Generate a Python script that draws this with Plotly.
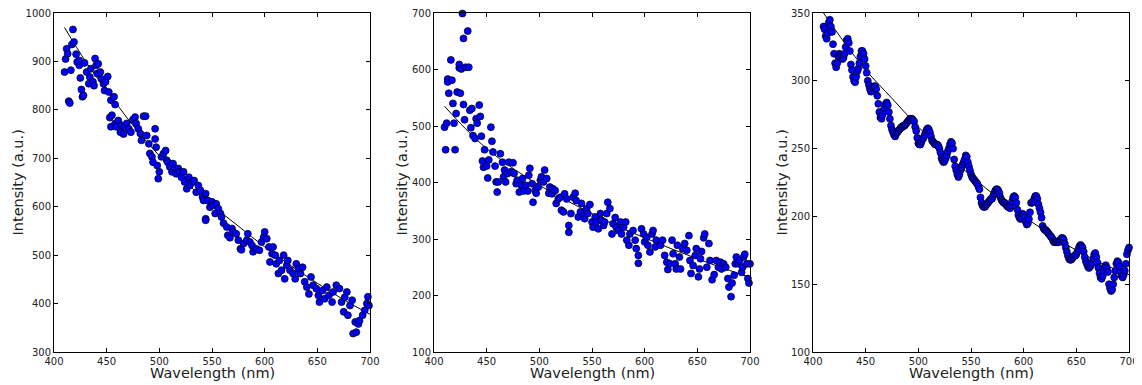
import plotly.graph_objects as go

# ---------------- Panel 1 (noisy, decaying) ----------------
p1_x = [410, 411, 412, 413, 414, 415, 416, 417, 418, 419, 421, 422, 424, 424, 425, 426, 427, 428,
        429, 431, 433, 434, 435, 437, 438, 439, 440, 441, 442, 444, 445, 447, 448, 449, 451, 452,
        454, 457, 458, 453, 454, 455, 458, 459, 461, 463, 464, 466, 467, 469, 471, 473, 475, 477,
        478, 480, 482, 483, 485, 487, 488, 490, 491, 493, 494, 496, 496, 497, 498, 499, 500, 502,
        504, 506, 507, 508, 510, 512, 513, 515, 516, 518, 519, 521, 523, 524, 526, 528, 529, 531,
        533, 535, 537, 539, 541, 542, 544, 544, 544, 546, 548, 550, 551, 553, 554, 556, 558, 559,
        561, 564, 565, 567, 569, 570, 573, 575, 577, 578, 580, 583, 584, 586, 588, 589, 592, 595,
        597, 599, 600, 602, 604, 605, 607, 608, 610, 611, 613, 614, 616, 618, 619, 621, 622, 624,
        627, 629, 630, 632, 634, 636, 638, 640, 642, 644, 646, 649, 651, 652, 655, 657, 659, 661,
        664, 665, 668, 671, 673, 675, 676, 678, 679, 681, 683, 684, 686, 687, 689, 690, 693, 695,
        697, 698, 699]
p1_y = [878, 905, 926, 916, 818, 814, 882, 935, 966, 940, 915, 899, 892, 902, 866, 842, 827, 830,
        897, 878, 854, 868, 885, 858, 850, 906, 892, 875, 895, 878, 864, 854, 840, 858, 869, 837,
        820, 827, 811, 784, 765, 789, 772, 765, 778, 754, 768, 750, 765, 772, 761, 754, 780, 785,
        772, 761, 751, 737, 787, 787, 747, 730, 710, 703, 692, 761, 740, 723, 685, 658, 672, 703,
        710, 716, 696, 692, 682, 672, 689, 679, 668, 679, 672, 661, 672, 651, 637, 661, 644, 651,
        654, 630, 644, 634, 620, 613, 627, 575, 572, 613, 599, 610, 603, 586, 606, 596, 586, 579,
        566, 558, 541, 536, 555, 548, 544, 531, 513, 511, 524, 531, 544, 527, 520, 507, 513, 510,
        527, 537, 548, 534, 517, 486, 503, 517, 500, 482, 462, 489, 469, 500, 451, 479, 489, 469,
        462, 451, 482, 472, 462, 475, 445, 434, 420, 455, 438, 431, 417, 403, 427, 410, 434, 417,
        403, 424, 438, 431, 403, 383, 413, 424, 376, 396, 407, 338, 362, 341, 358, 365, 376, 386,
        400, 414, 396]
p1_fit_x = [410, 430, 450, 475, 500, 525, 550, 575, 600, 625, 650, 675, 700]
p1_fit_y = [970, 900, 840, 768, 705, 650, 603, 560, 517, 478, 442, 408, 378]

# ---------------- Panel 2 (noisy, decaying) ----------------
p2_x = [410, 411, 412, 413, 413, 414, 416, 417, 418, 419, 420, 421, 422, 424, 424, 425, 426, 427,
        428, 428, 429, 430, 432, 433, 434, 435, 436, 437, 439, 440, 441, 443, 444, 445, 446, 447,
        448, 450, 451, 452, 454, 455, 456, 458, 459, 460, 461, 463, 465, 466, 467, 468, 470, 471,
        473, 475, 476, 478, 479, 481, 483, 484, 485, 487, 489, 490, 491, 493, 494, 496, 497, 499,
        501, 502, 504, 505, 507, 509, 510, 512, 513, 515, 516, 518, 520, 521, 523, 524, 526, 528,
        528, 530, 532, 534, 535, 537, 539, 540, 542, 543, 545, 546, 548, 550, 551, 553, 554, 556,
        558, 559, 561, 562, 564, 565, 567, 569, 570, 572, 573, 575, 577, 578, 580, 582, 583, 585,
        586, 589, 591, 592, 594, 594, 597, 599, 600, 602, 603, 605, 607, 608, 610, 611, 615, 617,
        619, 621, 622, 624, 626, 627, 629, 630, 631, 633, 634, 636, 638, 640, 642, 643, 644, 646,
        648, 649, 651, 652, 653, 654, 656, 657, 659, 661, 662, 664, 666, 668, 670, 672, 673, 675,
        677, 679, 680, 682, 683, 685, 686, 687, 689, 690, 692, 693, 694, 695, 697, 698, 699, 700]
p2_y = [498, 458, 505, 583, 578, 558, 617, 581, 540, 505, 458, 522, 560, 603, 609, 558, 601, 699,
        655, 538, 511, 604, 668, 604, 528, 497, 531, 483, 478, 513, 505, 537, 517, 482, 438, 427,
        458, 429, 408, 440, 498, 473, 454, 429, 401, 383, 401, 451, 436, 410, 422, 401, 416, 436,
        419, 435, 416, 398, 404, 383, 395, 407, 385, 395, 385, 413, 425, 398, 365, 386, 381, 392,
        404, 410, 401, 422, 407, 381, 392, 380, 389, 386, 363, 371, 374, 351, 348, 380, 371, 324,
        312, 345, 374, 381, 368, 339, 348, 363, 342, 336, 354, 345, 361, 330, 321, 339, 330, 318,
        345, 333, 324, 330, 345, 365, 354, 309, 327, 338, 321, 315, 330, 309, 321, 330, 298, 289,
        309, 315, 298, 283, 271, 257, 318, 309, 295, 303, 289, 277, 309, 315, 286, 298, 289, 298,
        271, 259, 246, 256, 298, 274, 256, 247, 289, 268, 247, 283, 292, 280, 306, 262, 239, 253,
        271, 283, 233, 247, 265, 278, 302, 309, 250, 292, 262, 228, 237, 262, 250, 259, 247, 256,
        250, 230, 215, 198, 222, 236, 256, 268, 256, 262, 241, 250, 268, 273, 256, 230, 222, 256]
p2_fit_x = [410, 430, 450, 475, 500, 525, 550, 575, 600, 625, 650, 675, 700]
p2_fit_y = [535, 495, 460, 425, 395, 369, 345, 322, 302, 283, 265, 248, 232]

# ---------------- Panel 3 (smooth oscillating decay, 1 nm steps 410..700) ----------------
p3_x = list(range(410, 701))
p3_y = [
    340, 338, 333, 331, 335, 343, 345, 340, 336, 327,   # 410
    320, 313, 310, 313, 318, 320, 319, 318, 316, 317,   # 420
    320, 325, 330, 331, 328, 322, 312, 308, 303, 300,   # 430
    299, 303, 307, 309, 313, 318, 322, 322, 320, 316,   # 440
    311, 306, 300, 297, 294, 292, 293, 295, 296, 296,   # 450
    294, 289, 283, 277, 273, 272, 275, 278, 280, 283,   # 460
    284, 282, 277, 272, 267, 264, 262, 260, 259, 261,   # 470
    262, 263, 264, 265, 266, 266, 267, 267, 268, 269,   # 480
    270, 271, 272, 272, 272, 271, 270, 266, 263, 258,   # 490
    254, 253, 253, 255, 257, 258, 260, 262, 264, 265,   # 500
    264, 262, 259, 256, 255, 254, 253, 253, 253, 252,   # 510
    250, 247, 243, 241, 240, 241, 243, 245, 248, 250,   # 520
    253, 255, 254, 250, 242, 237, 234, 231, 229, 231,   # 530
    234, 236, 238, 240, 242, 245, 244, 240, 237, 234,   # 540
    231, 229, 228, 227, 226, 225, 224, 222, 220, 214,   # 550
    210, 208, 207, 207, 208, 209, 210, 211, 212, 213,   # 560
    213, 215, 217, 219, 220, 220, 219, 217, 214, 212,   # 570
    211, 210, 210, 209, 208, 207, 207, 206, 208, 211,   # 580
    214, 215, 214, 210, 205, 201, 199, 198, 199, 202,   # 590
    201, 199, 196, 194, 195, 198, 203, 210, 210, 211,   # 600
    213, 215, 215, 213, 209, 206, 203, 199, 193, 191,   # 610
    190, 190, 189, 188, 187, 186, 185, 184, 182, 181,   # 620
    181, 181, 181, 181, 182, 183, 184, 184, 183, 180,   # 630
    177, 174, 171, 169, 168, 168, 169, 170, 171, 171,   # 640
    172, 174, 176, 178, 179, 178, 177, 174, 170, 167,   # 650
    165, 163, 162, 163, 164, 166, 169, 172, 173, 170,   # 660
    166, 162, 158, 155, 154, 156, 160, 163, 164, 162,   # 670
    159, 150, 147, 145, 146, 150, 155, 160, 165, 167,   # 680
    166, 163, 159, 156, 155, 157, 160, 165, 172, 175,   # 690
    177,                                                # 700
]
p3_fit_x = [410, 430, 450, 475, 500, 525, 550, 575, 600, 625, 650, 675, 700]
p3_fit_y = [350, 328, 308, 287, 266, 247, 230, 214, 200, 187, 175, 165, 157]

assert len(p1_x) == len(p1_y)
assert len(p2_x) == len(p2_y)
assert len(p3_x) == len(p3_y)

x_title = "Wavelength (nm)"
y_title = "Intensity (a.u.)"

panels = [
    (p1_x, p1_y, p1_fit_x, p1_fit_y, [300, 1000], list(range(300, 1001, 100))),
    (p2_x, p2_y, p2_fit_x, p2_fit_y, [100, 700], list(range(100, 701, 100))),
    (p3_x, p3_y, p3_fit_x, p3_fit_y, [100, 350], list(range(100, 351, 50))),
]

# The page body adds an 8px offset; lay out in window pixels and convert.
OFF = 8
W, H = 1142 - OFF, 385 - OFF


def px(x):
    return (x - OFF) / W


def py(y):
    return 1 - (y - OFF) / H


x_domains_px = [(54, 370), (434, 750), (813, 1129)]
ytitle_px = [17, 401, 781]
y_top_px, y_bot_px = 13, 352
ydom = [py(y_bot_px), py(y_top_px)]
x_ticks = list(range(400, 701, 50))

FONT = "DejaVu Sans"
TXT = "#222222"
fig = go.Figure()
layout_axes = {}
annotations = []
for i, (sx, sy, fx, fy, yr, yt) in enumerate(panels):
    n = "" if i == 0 else str(i + 1)
    fig.add_trace(go.Scatter(
        x=fx, y=fy, mode="lines", line=dict(color="black", width=1, shape="spline"),
        xaxis="x" + n, yaxis="y" + n, showlegend=False, hoverinfo="skip"))
    fig.add_trace(go.Scatter(
        x=sx, y=sy, mode="markers",
        marker=dict(color="#0000ff", size=7, line=dict(color="black", width=0.7)),
        xaxis="x" + n, yaxis="y" + n, showlegend=False, cliponaxis=False))
    l, r = x_domains_px[i]
    common = dict(showline=True, linecolor="black", linewidth=1, mirror="ticks",
                  ticks="inside", ticklen=4, tickwidth=1, tickcolor="black",
                  showgrid=False, zeroline=False, automargin=False,
                  ticklabeloverflow="allow",
                  tickfont=dict(family=FONT, size=10, color=TXT))
    layout_axes["xaxis" + n] = dict(
        domain=[px(l), px(r)], range=[400, 700], tickvals=x_ticks,
        anchor="y" + n, **common)
    layout_axes["yaxis" + n] = dict(
        domain=ydom, range=yr, tickvals=yt, anchor="x" + n, **common)
    annotations.append(dict(
        text=x_title, xref="paper", yref="paper", x=px((l + r) / 2), y=py(373),
        xanchor="center", yanchor="middle", showarrow=False,
        font=dict(family=FONT, size=14.5, color=TXT)))
    annotations.append(dict(
        text=y_title, xref="paper", yref="paper", x=px(ytitle_px[i]),
        y=py((y_top_px + y_bot_px) / 2), textangle=-90,
        xanchor="center", yanchor="middle", showarrow=False,
        font=dict(family=FONT, size=14.5, color=TXT)))

fig.update_layout(
    width=W, height=H,
    margin=dict(l=0, r=0, t=0, b=0, autoexpand=False),
    paper_bgcolor="white", plot_bgcolor="white",
    font=dict(family=FONT),
    annotations=annotations,
    **layout_axes)

fig.write_html("out.html")
